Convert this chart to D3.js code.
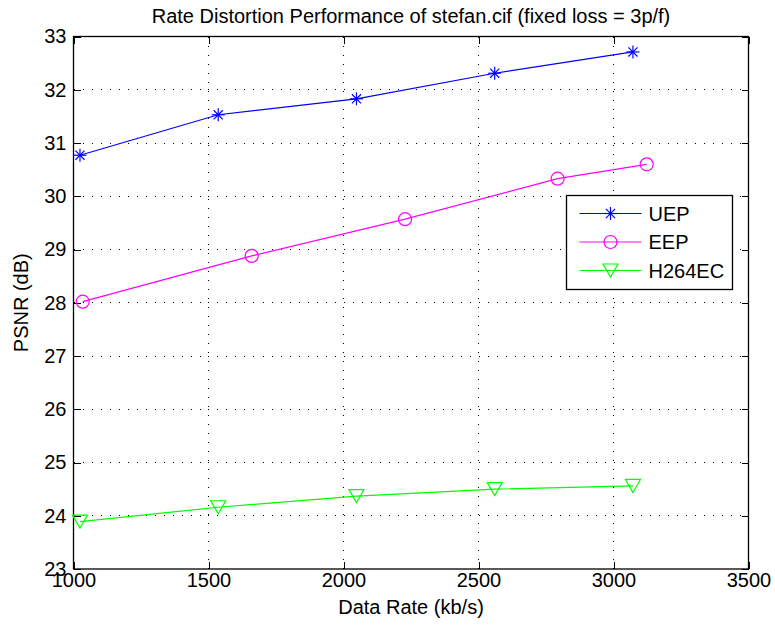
<!DOCTYPE html>
<html>
<head>
<meta charset="utf-8">
<script src="https://cdn.jsdelivr.net/npm/d3@7"></script>
<style>
  body { margin: 0; background: #fff; }
  text { font-family: "Liberation Sans", Arial, sans-serif; fill: #000; }
</style>
</head>
<body>
<div id="chart"></div>
<script>
// Data
const rateUEP = [1024, 1536, 2048, 2560, 3072]
const psnrUEP = [30.77, 31.53, 31.83, 32.31, 32.71]
const rateEEP = [1034, 1660, 2228, 2793, 3123]
const psnrEEP = [28.02, 28.88, 29.57, 30.33, 30.60]
const rateH264 = [1024, 1536, 2048, 2560, 3072]
const psnrH264 = [23.89, 24.16, 24.37, 24.50, 24.56]

const xTicks = [1000, 1500, 2000, 2500, 3000, 3500]
const yTicks = [23, 24, 25, 26, 27, 28, 29, 30, 31, 32, 33]

const series = [
  { name: "UEP", color: "#0000ff", marker: "star", x: rateUEP, y: psnrUEP },
  { name: "EEP", color: "#ff00ff", marker: "circle", x: rateEEP, y: psnrEEP },
  { name: "H264EC", color: "#00ff00", marker: "tri", x: rateH264, y: psnrH264 }
]

const width = 775, height = 625
const margin = { left: 73.5, top: 36.5, right: 26.5, bottom: 56 }
const plotW = width - margin.left - margin.right
const plotH = height - margin.top - margin.bottom
const fontSize = 20

const svg = d3.select("#chart").append("svg")
  .attr("width", width)
  .attr("height", height)

const x = d3.scaleLinear().domain([1000, 3500]).range([margin.left, margin.left + plotW])
const y = d3.scaleLinear().domain([23, 33]).range([margin.top + plotH, margin.top])

// Grid (dotted)
const grid = svg.append("g")
xTicks.slice(1, -1).forEach(t => {
  grid.append("line")
    .attr("x1", x(t)).attr("x2", x(t))
    .attr("y1", margin.top).attr("y2", margin.top + plotH)
    .attr("stroke", "#000").attr("stroke-width", 1)
    .attr("stroke-dasharray", "1,8")
    .attr("shape-rendering", "crispEdges")
})
yTicks.slice(1, -1).forEach(t => {
  grid.append("line")
    .attr("x1", margin.left).attr("x2", margin.left + plotW)
    .attr("y1", y(t)).attr("y2", y(t))
    .attr("stroke", "#000").attr("stroke-width", 1)
    .attr("stroke-dasharray", "1,8")
    .attr("shape-rendering", "crispEdges")
})

// Axes: ticks inside on all four sides
const tickLen = 7
const xBottom = svg.append("g")
  .attr("transform", `translate(0,${margin.top + plotH})`)
  .call(d3.axisBottom(x).tickValues(xTicks).tickSize(-tickLen).tickPadding(4).tickFormat(d3.format("d")))
const xTop = svg.append("g")
  .attr("transform", `translate(0,${margin.top})`)
  .call(d3.axisTop(x).tickValues(xTicks).tickSize(-tickLen).tickFormat(""))
const yLeft = svg.append("g")
  .attr("transform", `translate(${margin.left},0)`)
  .call(d3.axisLeft(y).tickValues(yTicks).tickSize(-tickLen).tickPadding(7).tickFormat(d3.format("d")))
const yRight = svg.append("g")
  .attr("transform", `translate(${margin.left + plotW},0)`)
  .call(d3.axisRight(y).tickValues(yTicks).tickSize(-tickLen).tickFormat(""))

;[xBottom, xTop, yLeft, yRight].forEach(g => {
  g.select(".domain").remove()
  g.selectAll("line").attr("stroke", "#000").attr("shape-rendering", "crispEdges")
  g.selectAll("text").attr("font-size", fontSize).attr("font-family", "Liberation Sans, Arial, sans-serif")
})

// Box
svg.append("rect")
  .attr("x", margin.left).attr("y", margin.top)
  .attr("width", plotW).attr("height", plotH)
  .attr("fill", "none").attr("stroke", "#000").attr("stroke-width", 1.3)

// Marker drawing
function drawMarker(g, type, cx, cy, color) {
  if (type === "star") {
    const r = 6.5
    const p = [
      [0, -r, 0, r], [-r, 0, r, 0],
      [-r * 0.7, -r * 0.7, r * 0.7, r * 0.7], [-r * 0.7, r * 0.7, r * 0.7, -r * 0.7]
    ]
    p.forEach(s => {
      g.append("line")
        .attr("x1", cx + s[0]).attr("y1", cy + s[1])
        .attr("x2", cx + s[2]).attr("y2", cy + s[3])
        .attr("stroke", color).attr("stroke-width", 1.2)
    })
  } else if (type === "circle") {
    g.append("circle").attr("cx", cx).attr("cy", cy).attr("r", 6.5)
      .attr("fill", "none").attr("stroke", color).attr("stroke-width", 1.2)
  } else {
    const w = 7.5, h = 6.5
    g.append("path")
      .attr("d", `M${cx - w},${cy - h}L${cx + w},${cy - h}L${cx},${cy + h}Z`)
      .attr("fill", "none").attr("stroke", color).attr("stroke-width", 1.2)
  }
}

const line = d3.line().x(d => x(d[0])).y(d => y(d[1]))

series.forEach(s => {
  const pts = s.x.map((v, i) => [v, s.y[i]])
  const g = svg.append("g")
  g.append("path").datum(pts)
    .attr("d", line)
    .attr("fill", "none").attr("stroke", s.color).attr("stroke-width", 1.2)
  pts.forEach(p => drawMarker(g, s.marker, x(p[0]), y(p[1]), s.color))
})

// Legend
const legX = 566.5, legY = 195.5, legW = 166, legH = 94
const leg = svg.append("g")
leg.append("rect")
  .attr("x", legX).attr("y", legY).attr("width", legW).attr("height", legH)
  .attr("fill", "#fff").attr("stroke", "#000").attr("stroke-width", 1.3)
series.forEach((s, i) => {
  const ly = legY + 18 + i * 28.5
  leg.append("line")
    .attr("x1", legX + 13).attr("x2", legX + 75)
    .attr("y1", ly).attr("y2", ly)
    .attr("stroke", s.color).attr("stroke-width", 1.2)
  drawMarker(leg, s.marker, legX + 44, ly, s.color)
  leg.append("text")
    .attr("x", legX + 82).attr("y", ly + 7)
    .attr("font-size", fontSize)
    .text(s.name)
})

// Title and axis labels
svg.append("text")
  .attr("x", margin.left + plotW / 2).attr("y", 23)
  .attr("text-anchor", "middle").attr("font-size", fontSize)
  .text("Rate Distortion Performance of stefan.cif (fixed loss = 3p/f)")

svg.append("text")
  .attr("x", margin.left + plotW / 2).attr("y", 614)
  .attr("text-anchor", "middle").attr("font-size", fontSize)
  .text("Data Rate (kb/s)")

svg.append("text")
  .attr("transform", `translate(28,${margin.top + plotH / 2}) rotate(-90)`)
  .attr("text-anchor", "middle").attr("font-size", fontSize)
  .text("PSNR (dB)")
</script>
</body>
</html>
